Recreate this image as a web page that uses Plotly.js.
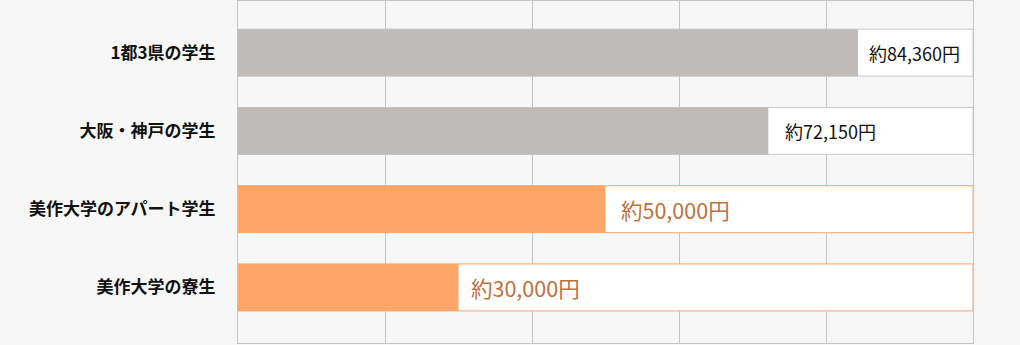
<!DOCTYPE html>
<html><head><meta charset="utf-8">
<script src="https://cdn.plot.ly/plotly-3.0.1.min.js"></script>
<style>html,body{margin:0;padding:0;background:#f7f7f7;}#c{width:1020px;height:345px;}</style>
</head><body><div id="c"></div>
<script>
const categories = ["1都3県の学生", "大阪・神戸の学生", "美作大学のアパート学生", "美作大学の寮生"];
const values = [84360, 72150, 50000, 30000];
const valueLabels = ["約84,360円", "約72,150円", "約50,000円", "約30,000円"];
const scaleMax = 100000;

const barColors = ["#bfbbb9", "#bfbbb9", "#fea668", "#fea668"];
const trackLineColors = ["#c8c8c8", "#c8c8c8", "#fea668", "#fea668"];
const labelColors = ["#111111", "#111111", "#c0703c", "#c0703c"];
const labelSizes = [18, 18, 21.5, 21.5];
const labelShifts = [9, 15, 13, 10];

const track = {
  type: "bar", orientation: "h", y: categories, x: categories.map(() => scaleMax),
  width: 0.6, marker: {color: "#ffffff", line: {color: trackLineColors, width: 1}},
  hoverinfo: "skip", showlegend: false
};
const bars = {
  type: "bar", orientation: "h", y: categories, x: values,
  width: 0.6, marker: {color: barColors, line: {width: 0}},
  showlegend: false
};
const annotations = categories.map((c, i) => ({
  x: values[i], y: c, xref: "x", yref: "y", xanchor: "left", yanchor: "middle",
  xshift: labelShifts[i], text: valueLabels[i], showarrow: false,
  font: {family: "Noto Sans CJK JP", size: labelSizes[i], color: labelColors[i]}
}));

const layout = {
  width: 1020, height: 345,
  margin: {l: 238, r: 47, t: 1, b: 2},
  paper_bgcolor: "#f7f7f7", plot_bgcolor: "#f7f7f7",
  barmode: "overlay",
  font: {family: "Noto Sans CJK JP"},
  xaxis: {range: [0, scaleMax], dtick: 20000, showgrid: true, gridcolor: "#c4c4c4", gridwidth: 1,
          showticklabels: false, zeroline: false, showline: true, mirror: true, linecolor: "#c4c4c4", ticks: "", fixedrange: true},
  yaxis: {range: [3.71, -0.66], showgrid: false, zeroline: false, showline: true, mirror: true, linecolor: "#c4c4c4",
          ticks: "outside", ticklen: 18, tickcolor: "rgba(0,0,0,0)",
          tickfont: {family: "Noto Sans CJK JP", size: 17, color: "#111111", weight: "bold"}, fixedrange: true},
  annotations: annotations
};
Plotly.newPlot("c", [track, bars], layout, {displayModeBar: false, staticPlot: true});
</script></body></html>
